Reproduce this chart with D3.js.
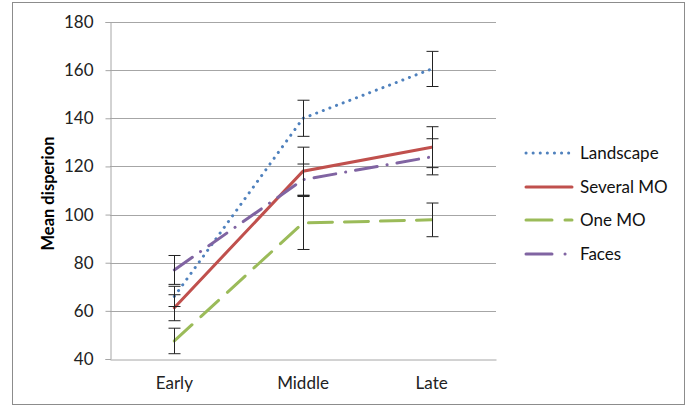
<!DOCTYPE html>
<html><head><meta charset="utf-8">
<script src="https://cdn.jsdelivr.net/npm/d3@7"></script>
<style>body{margin:0;background:#fff}svg{display:block}</style>
</head><body>
<script>
const categories = ["Early", "Middle", "Late"];
const seriesNames = ["Landscape", "Several MO", "One MO", "Faces"];
const landscape = [66, 140, 160.5];
const severalMO = [61.3, 118, 128];
const oneMO = [47.5, 96.5, 97.8];
const faces = [77, 114.5, 124];
const landscapeErr = [4.2, 7.5, 7.3];
const severalMOErr = [5.4, 10, 8.5];
const oneMOErr = [5.3, 11, 7];
const facesErr = [6, 6.5, 7.5];
const yTicks = [40, 60, 80, 100, 120, 140, 160, 180];

const colors = ["#4F81BD", "#C0504D", "#9BBB59", "#8064A2"];
const dashes = ["0.1 7", null, "24 12", "22 10 0.1 10"];
const values = [landscape, severalMO, oneMO, faces];
const errs = [landscapeErr, severalMOErr, oneMOErr, facesErr];

const W = 690, H = 406;
const svg = d3.select("body").append("svg").attr("width", W).attr("height", H);
const font = "Lato, 'Open Sans', sans-serif";

svg.append("rect").attr("x", 12.5).attr("y", 2.5).attr("width", 672).attr("height", 402)
  .attr("fill", "none").attr("stroke", "#8c8c8c").attr("stroke-width", 1);

const L = 110, R = 496, T = 22, B = 359;
const x = d3.scaleBand().domain(categories).range([L, R]);
const y = d3.scaleLinear().domain([40, 180]).range([B, T]);

// gridlines
svg.append("g").selectAll("line").data(yTicks.filter(d => d > 40)).join("line")
  .attr("x1", L).attr("x2", R).attr("y1", d => Math.round(y(d)) + 0.5).attr("y2", d => Math.round(y(d)) + 0.5)
  .attr("stroke", "#a6a6a6").attr("stroke-width", 1);

// y axis
const yAxis = d3.axisLeft(y).tickValues(yTicks).tickSize(5).tickPadding(12);
const gy = svg.append("g").attr("transform", `translate(${L + 0.5},0)`).call(yAxis);
gy.select(".domain").attr("stroke", "#a6a6a6");
gy.selectAll(".tick line").attr("stroke", "#a6a6a6");
gy.selectAll("text").attr("font-family", font).attr("font-size", 17).attr("fill", "#222");

// x axis
const xAxis = d3.axisBottom(x).tickSize(0).tickPadding(17);
const gx = svg.append("g").attr("transform", `translate(0,${B + 0.5})`).call(xAxis);
gx.select(".domain").attr("stroke", "#a6a6a6");
gx.selectAll("text").attr("font-family", font).attr("font-size", 17).attr("fill", "#222");

// y title
svg.append("text").attr("transform", `translate(54,${(T + B) / 2 + 3}) rotate(-90)`)
  .attr("text-anchor", "middle").attr("font-family", font).attr("font-weight", "bold")
  .attr("font-size", 16.5).attr("fill", "#000").text("Mean disperion");

const cx = c => x(c) + x.bandwidth() / 2;
const line = d3.line().x((d, i) => cx(categories[i])).y(d => y(d));

// lines
values.forEach((v, s) => {
  svg.append("path").datum(v).attr("d", line).attr("fill", "none")
    .attr("stroke", colors[s]).attr("stroke-width", 3)
    .attr("stroke-linecap", "round")
    .attr("stroke-dasharray", dashes[s]);
});

// error bars
values.forEach((v, s) => {
  const g = svg.append("g");
  v.forEach((val, i) => {
    const xc = Math.round(cx(categories[i])) + 0.5;
    const e = errs[s][i];
    g.append("line").attr("x1", xc).attr("x2", xc).attr("y1", y(val + e)).attr("y2", y(val - e))
      .attr("stroke", "#222").attr("stroke-width", 1);
    [val + e, val - e].forEach(w => {
      g.append("line").attr("x1", xc - 6).attr("x2", xc + 6).attr("y1", y(w)).attr("y2", y(w))
        .attr("stroke", "#222").attr("stroke-width", 1);
    });
  });
});

// legend
const legY = [153, 187, 220, 254];
seriesNames.forEach((n, s) => {
  svg.append("line").attr("x1", 526).attr("x2", 572).attr("y1", legY[s]).attr("y2", legY[s])
    .attr("stroke", colors[s]).attr("stroke-width", 3).attr("stroke-linecap", "round")
    .attr("stroke-dasharray", s === 0 ? "0.1 7" : s === 2 ? "26 13" : s === 3 ? "26 13 0.1 10" : null);
  svg.append("text").attr("x", 580).attr("y", legY[s]).attr("dy", "0.36em")
    .attr("font-family", font).attr("font-size", 17).attr("fill", "#111").text(n);
});
</script>
</body></html>
